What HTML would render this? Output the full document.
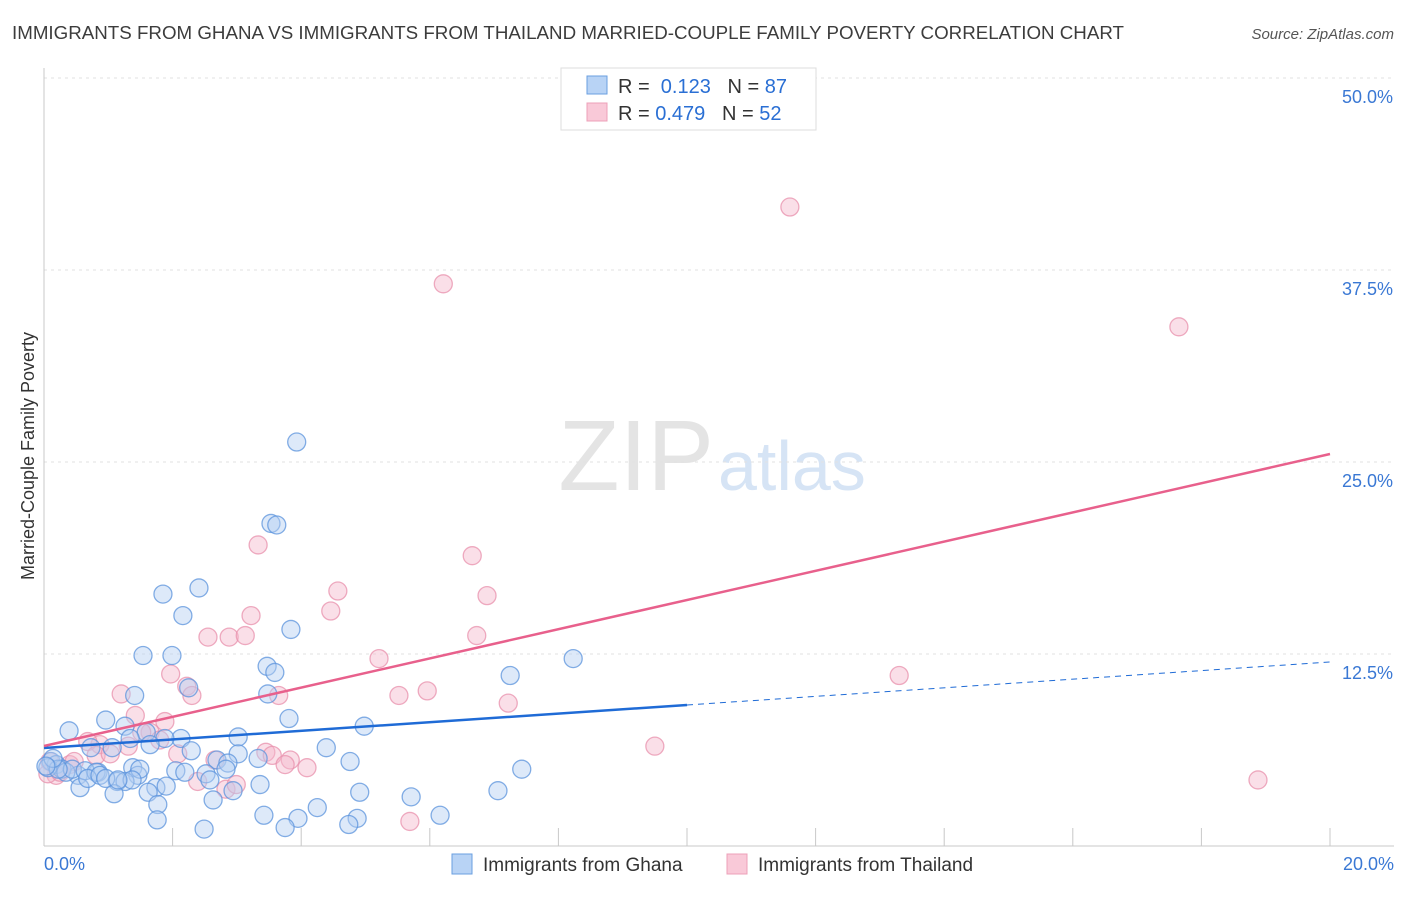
<!DOCTYPE html>
<html><head><meta charset="utf-8">
<style>
body{margin:0;background:#fff;font-family:"Liberation Sans",sans-serif;}
svg text{font-family:"Liberation Sans",sans-serif;}
</style></head>
<body>
<svg id="chart" width="1406" height="892" xmlns="http://www.w3.org/2000/svg">
<text x="12" y="39" font-size="18" fill="#3c3c3c" textLength="1112" lengthAdjust="spacingAndGlyphs">IMMIGRANTS FROM GHANA VS IMMIGRANTS FROM THAILAND MARRIED-COUPLE FAMILY POVERTY CORRELATION CHART</text>
<text x="1394" y="39" font-size="15" fill="#555" font-style="italic" text-anchor="end">Source: ZipAtlas.com</text>
<text x="714" y="490" font-size="100" fill="#e4e4e4" text-anchor="end" font-family="Liberation Serif">ZIP</text>
<text x="718" y="490" font-size="70" fill="#d6e4f5">atlas</text>
<g id="grid"></g>
<g id="axes"></g>
<g id="marks"></g>
<text transform="translate(34,456) rotate(-90)" font-size="18" fill="#333" text-anchor="middle">Married-Couple Family Poverty</text>
<g>
<rect x="561" y="68" width="255" height="62" fill="#fff" stroke="#ddd"/>
<rect x="587" y="76" width="20" height="18" fill="#b8d3f5" stroke="#6a9fe0"/>
<rect x="587" y="103" width="20" height="18" fill="#f9c9d8" stroke="#eda0b8"/>
<text x="618" y="93" font-size="20" fill="#333">R = <tspan fill="#2a6fd4">&#160;0.123</tspan>&#160;&#160;&#160;N = <tspan fill="#2a6fd4">87</tspan></text>
<text x="618" y="120" font-size="20" fill="#333">R = <tspan fill="#2a6fd4">0.479</tspan>&#160;&#160;&#160;N = <tspan fill="#2a6fd4">52</tspan></text>
</g>
<g>
<rect x="452" y="854" width="20" height="20" fill="#b8d3f5" stroke="#6a9fe0"/>
<text x="483" y="871" font-size="19" fill="#333">Immigrants from Ghana</text>
<rect x="727" y="854" width="20" height="20" fill="#f9c9d8" stroke="#eda0b8"/>
<text x="758" y="871" font-size="19" fill="#333">Immigrants from Thailand</text>
</g>
</svg>
<script>
const yTicks=[12.5,25,37.5,50];
const yTickLabels=["12.5%","25.0%","37.5%","50.0%"];
const xTickLabels=["0.0%","20.0%"];
const ghanaX=[3.93,3.53,3.62,2.41,1.85,2.16,3.84,1.54,1.99,3.47,3.59,8.23,7.25,3.48,2.25,1.41,3.81,4.98,0.96,0.39,1.26,1.59,2.13,3.02,1.88,1.65,1.06,0.73,4.39,2.29,3.02,4.76,1.34,3.33,2.69,2.86,2.83,1.38,7.43,2.05,2.52,2.19,1.46,0.84,0.53,1.14,1.26,0.56,1.74,1.09,2.58,3.36,2.94,1.9,1.62,4.91,7.06,2.63,5.71,1.77,4.25,3.42,3.95,6.16,1.76,4.87,4.74,3.75,2.49,0.11,0.19,0.28,0.06,0.34,0.44,0.64,0.81,0.22,0.14,0.03,0.68,0.87,1.49,1.37,0.96,1.15];
const ghanaY=[26.3,21.0,20.9,16.8,16.4,15.0,14.1,12.4,12.4,11.7,11.3,12.2,11.1,9.9,10.3,9.8,8.3,7.8,8.2,7.5,7.8,7.4,7.0,7.1,7.0,6.6,6.4,6.4,6.4,6.2,6.0,5.5,7.0,5.7,5.6,5.4,5.0,5.1,5.0,4.9,4.7,4.8,4.6,4.8,4.6,4.2,4.2,3.8,3.8,3.4,4.3,4.0,3.6,3.9,3.5,3.5,3.6,3.0,3.2,2.7,2.5,2.0,1.8,2.0,1.7,1.8,1.4,1.2,1.1,5.5,5.3,5.0,5.1,4.8,5.0,4.9,4.8,5.0,5.7,5.2,4.4,4.6,5.0,4.3,4.4,4.3];
const thaiX=[11.6,6.21,17.65,3.33,6.66,4.57,6.89,3.22,4.46,2.55,2.88,3.13,6.73,5.21,1.97,13.3,2.22,5.96,5.52,2.3,1.2,3.65,7.22,1.42,1.88,1.65,1.8,9.5,1.31,0.87,0.68,0.81,2.08,3.45,3.55,2.66,3.83,3.75,4.09,2.39,2.83,2.99,5.69,18.88,0.09,0.19,0.06,0.40,0.47,0.25,1.03,1.52];
const thaiY=[41.6,36.6,33.8,19.6,18.9,16.6,16.3,15.0,15.3,13.6,13.6,13.7,13.7,12.2,11.2,11.1,10.4,10.1,9.8,9.8,9.9,9.8,9.3,8.5,8.1,7.4,6.9,6.5,6.5,6.6,6.8,5.9,6.0,6.1,5.9,5.6,5.6,5.3,5.1,4.2,3.7,4.0,1.6,4.3,5.5,4.6,4.7,5.3,5.5,4.8,6.0,7.4];
const ghanaTrend=[6.38,11.98];
const thaiTrend=[6.51,25.52];
const NS="http://www.w3.org/2000/svg";
const X0=44,X1=1330,Y0=846,PY=192/12.5;
function sx(v){return X0+(v/20)*(X1-X0);}
function sy(v){return Y0-v*PY;}
function mk(tag,attrs,parent){const e=document.createElementNS(NS,tag);for(const k in attrs)e.setAttribute(k,attrs[k]);parent.appendChild(e);return e;}
const grid=document.getElementById('grid'),axes=document.getElementById('axes'),marks=document.getElementById('marks');
yTicks.forEach((t,i)=>{
 const l=mk('line',{x1:X0,x2:1394,y1:sy(t),y2:sy(t),stroke:'#e2e2e2','stroke-dasharray':'3,4'},grid);
 
 
 const tx=mk('text',{x:1393,y:sy(t)+25,'font-size':18,fill:'#3a78d4','text-anchor':'end'},axes);
 tx.textContent=yTickLabels[i];
 
 
});
const ax=mk('line',{x1:X0,x2:X0,y1:68,y2:Y0,stroke:'#c8c8c8'},axes);


const bx=mk('line',{x1:X0,x2:1394,y1:Y0,y2:Y0,stroke:'#c8c8c8'},axes);


for(let i=1;i<=10;i++){
 const t=mk('line',{x1:sx(i*2),x2:sx(i*2),y1:Y0,y2:Y0-18,stroke:'#c8c8c8'},axes);
 
 
}
[[0,'start',44],[20,'end',1394]].forEach((a,i)=>{
 const tx=mk('text',{x:a[2],y:870,'font-size':18,fill:'#3a78d4','text-anchor':a[1]},axes);
 tx.textContent=xTickLabels[i];
 
 
});
function dots(xs,ys,fill,stroke,name){
 xs.forEach((x,i)=>{
  const c=mk('circle',{cx:sx(x),cy:sy(ys[i]),r:9,fill:fill,'fill-opacity':0.45,stroke:stroke,'stroke-opacity':0.75,'stroke-width':1.3},marks);
  
  
 });
}
dots(thaiX,thaiY,'#f5b8cc','#e890ac','thailand-point');
dots(ghanaX,ghanaY,'#b4cff2','#5b93dc','ghana-point');
const gm=ghanaTrend[0]+(ghanaTrend[1]-ghanaTrend[0])*0.5;
const g1=mk('line',{x1:sx(0),y1:sy(ghanaTrend[0]),x2:sx(10),y2:sy(gm),stroke:'#1f6bd6','stroke-width':2.5},marks);


const g2=mk('line',{x1:sx(10),y1:sy(gm),x2:sx(20),y2:sy(ghanaTrend[1]),stroke:'#1f6bd6','stroke-width':1,'stroke-dasharray':'6,5'},marks);


const p1=mk('line',{x1:sx(0),y1:sy(thaiTrend[0]),x2:sx(20),y2:sy(thaiTrend[1]),stroke:'#e8608c','stroke-width':2.5},marks);


</script>
</body></html>
